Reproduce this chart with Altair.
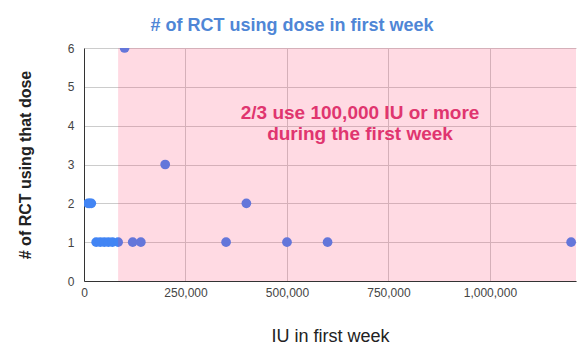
import altair as alt
import pandas as pd

# Data
doses = [10000, 14000, 18000,
         30000, 40000, 50000, 60000, 70000, 84000,
         100000, 120000, 140000, 200000, 350000, 400000,
         500000, 600000, 1200000]
counts = [2, 2, 2,
          1, 1, 1, 1, 1, 1,
          6, 1, 1, 3, 1, 2,
          1, 1, 1]

x_ticks = [0, 250000, 500000, 750000, 1000000]
y_ticks = [0, 1, 2, 3, 4, 5, 6]
x_max = 1212000
y_max = 6

highlight_start = [84000]
highlight_end = [x_max]
note_lines = ["2/3 use 100,000 IU or more", "during the first week"]
note_x = [680000]
note_y = [4.17]

FONT = "Liberation Sans"

pts = pd.DataFrame({"dose": doses, "count": counts})
band = pd.DataFrame({"dose": highlight_start, "x2": highlight_end, "count": [0], "y2": [y_max]})
note = pd.DataFrame({"dose": note_x, "count": note_y, "t": [note_lines]})

xscale = alt.Scale(domain=[0, x_max], nice=False, zero=True)
yscale = alt.Scale(domain=[0, y_max], nice=False)

xaxis = alt.Axis(title="IU in first week", values=x_ticks, format=",d",
                 labelFont=FONT, labelFontSize=12, labelColor="#444444",
                 labelPadding=6, ticks=False, domainColor="#333333",
                 gridColor="#cccccc", labelFlush=False, labelOverlap=False,
                 titleFont=FONT, titleFontSize=18, titleFontWeight="normal",
                 titleColor="#222222", titleBaseline="alphabetic", titleY=60)
yaxis = alt.Axis(title="# of RCT using that dose", values=y_ticks, format="d",
                 labelFont=FONT, labelFontSize=12, labelColor="#444444",
                 labelPadding=10, ticks=False, domainColor="#333333",
                 gridColor="#cccccc", labelOverlap=False, labelFlush=False,
                 titleFont=FONT, titleFontSize=16, titleFontWeight="bold",
                 titleColor="#222222", titleBaseline="alphabetic",
                 titleAlign="center", titleAngle=-90,
                 titleX=-54, titleY=116.5)

X = alt.X("dose:Q", scale=xscale, axis=xaxis)
Y = alt.Y("count:Q", scale=yscale, axis=yaxis)

points = alt.Chart(pts).mark_circle(size=95, opacity=1, color="#4285f4", clip=True).encode(
    x=X, y=Y
)

pink = alt.Chart(band).mark_rect(color="#ff3366", opacity=0.18).encode(
    x=X, x2="x2", y=Y, y2="y2"
)

text = alt.Chart(note).mark_text(
    font=FONT, fontSize=19, fontWeight="bold", color="#e0356f",
    align="center", baseline="alphabetic", lineHeight=21
).encode(x=X, y=Y, text="t")

chart = alt.layer(points, pink, text).properties(
    width=492, height=233,
    padding={"left": 84, "top": 48, "right": 8, "bottom": 71},
    autosize=alt.AutoSizeParams(type="none"),
    title=alt.TitleParams("# of RCT using dose in first week", font=FONT, fontSize=18,
                          fontWeight="bold", color="#4f86d6", anchor="middle",
                          dx=-38, offset=-7, baseline="alphabetic"),
).configure_view(stroke=None)

chart.save("out.html", embed_options={"renderer": "svg", "actions": False})
